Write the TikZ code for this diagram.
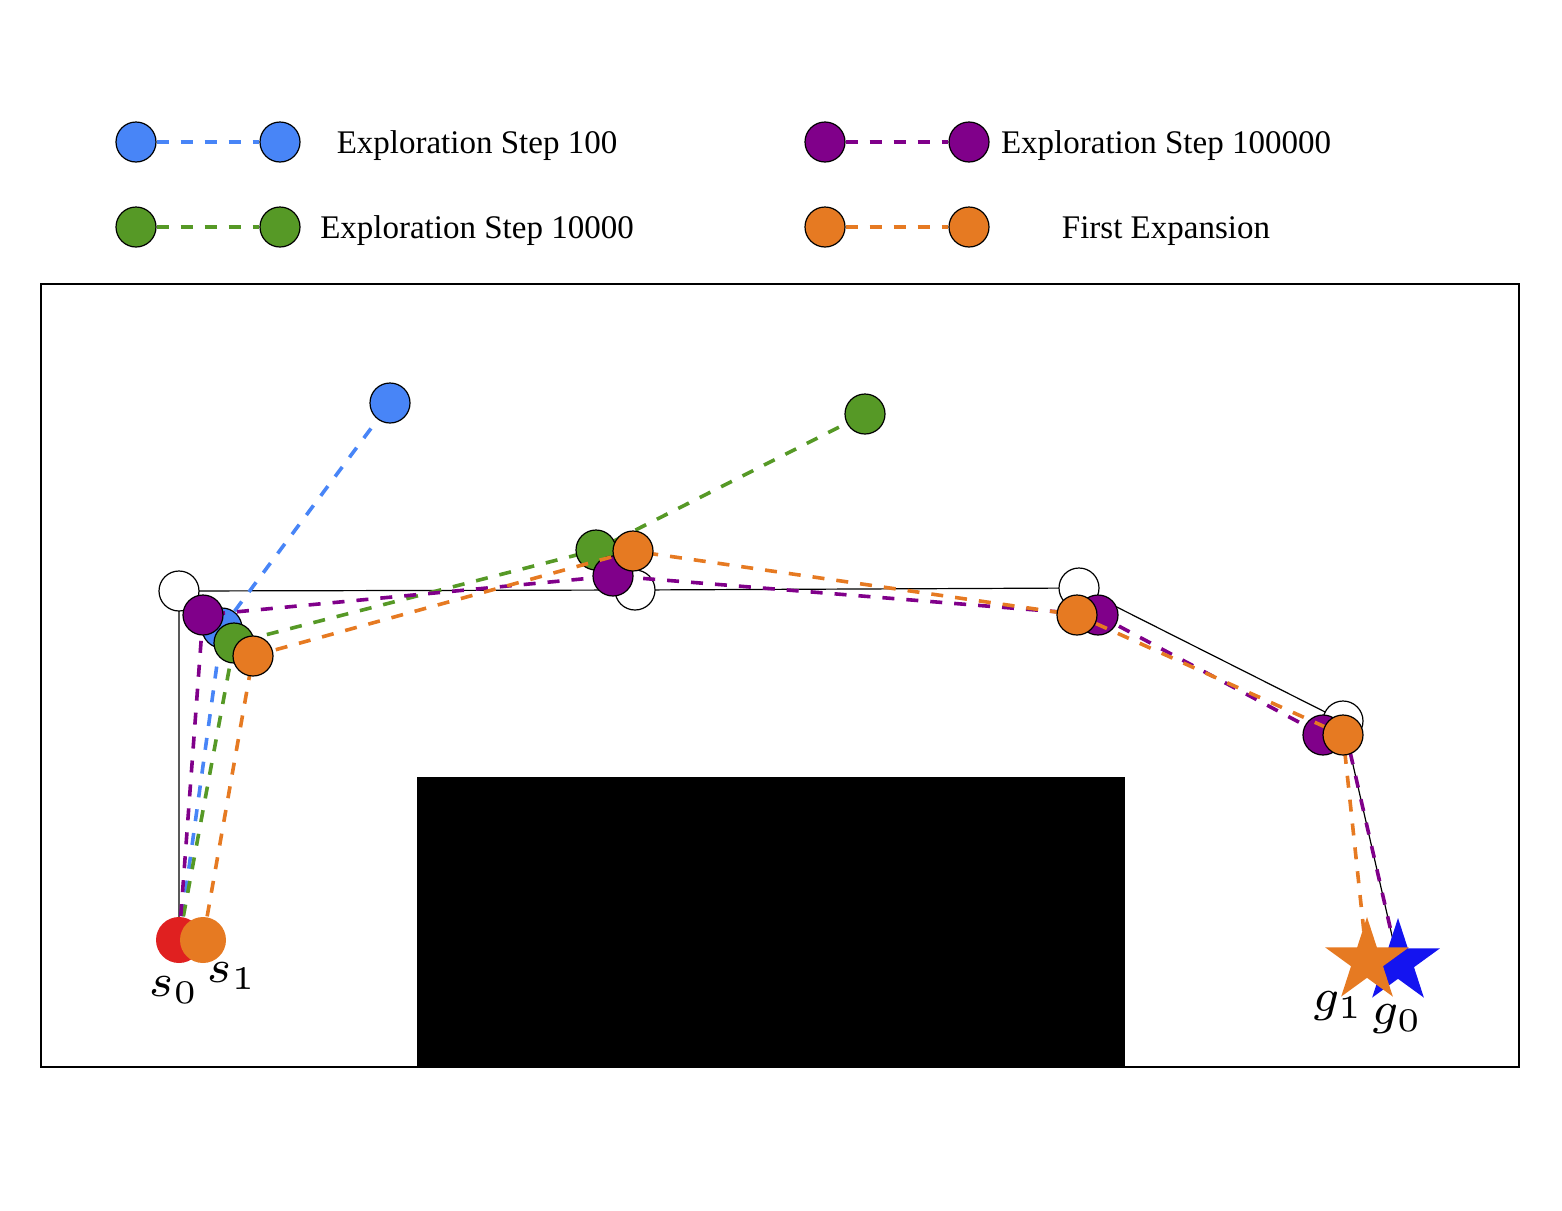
\documentclass[tikz,border=0pt]{standalone}
\usepackage{fontspec}
\setmainfont{Liberation Serif}
\usetikzlibrary{shapes.geometric}
\definecolor{cblue}{RGB}{72,133,247}
\definecolor{cgreen}{RGB}{86,153,38}
\definecolor{cpurple}{RGB}{128,0,138}
\definecolor{corange}{RGB}{230,122,34}
\definecolor{cred}{RGB}{224,32,32}
\definecolor{cstar}{RGB}{20,20,240}
\tikzset{
  dot/.style={circle, draw=black, line width=1.2pt, minimum size=40pt, inner sep=0pt},
  dline/.style={line width=3.6pt, dash pattern=on 12pt off 12pt},
  refline/.style={line width=1.2pt, black},
  lbl/.style={font=\fontsize{33}{40}\selectfont, inner sep=0pt},
  mlbl/.style={font=\fontsize{7}{8}\selectfont, scale=6.6, inner sep=0pt},
  startdot/.style={circle, minimum size=46pt, inner sep=0pt},
  goal/.style={star, star points=5, star point ratio=2.618, minimum size=88pt, inner sep=0pt}
}
\begin{document}
\begin{tikzpicture}[x=1pt,y=-1pt]
\useasboundingbox (0,0) rectangle (1562,1210);
% legend
\node[dot, fill=cblue] (lb1) at (136,142) {};
\node[dot, fill=cblue] (lb2) at (280,142) {};
\draw[dline, cblue] (lb1) -- (lb2);
\node[lbl] (tb) at (477,146) {Exploration Step 100};
\node[dot, fill=cgreen] (lg1) at (136,227) {};
\node[dot, fill=cgreen] (lg2) at (280,227) {};
\draw[dline, cgreen] (lg1) -- (lg2);
\node[lbl] (tg) at (477,231) {Exploration Step 10000};
\node[dot, fill=cpurple] (lp1) at (825,142) {};
\node[dot, fill=cpurple] (lp2) at (969,142) {};
\draw[dline, cpurple] (lp1) -- (lp2);
\node[lbl] (tp) at (1166,146) {Exploration Step 100000};
\node[dot, fill=corange] (lo1) at (825,227) {};
\node[dot, fill=corange] (lo2) at (969,227) {};
\draw[dline, corange] (lo1) -- (lo2);
\node[lbl] (to) at (1166,231) {First Expansion};
% frame and obstacle
\draw[line width=1.2pt] (41,284) rectangle (1519,1067);
\fill[black] (417,777) rectangle (1125,1066);
% coordinates
\coordinate (s0) at (179,940);
\coordinate (s1) at (203,940);
\coordinate (g0) at (1398,962);
\coordinate (g1) at (1367,961);
\coordinate (w1) at (179,591);
\coordinate (w2) at (635,590);
\coordinate (w3) at (1079,588);
\coordinate (w4) at (1343,721);
\coordinate (b1) at (222,628);
\coordinate (bt) at (390,403);
\coordinate (gr1) at (234,643);
\coordinate (gr2) at (596,550);
\coordinate (grt) at (865,414);
\coordinate (p1) at (203,615);
\coordinate (p2) at (613,576);
\coordinate (p3) at (1098,615);
\coordinate (p4) at (1323,735);
\coordinate (o1) at (253,656);
\coordinate (o2) at (633,551);
\coordinate (o3) at (1077,615);
\coordinate (o4) at (1343,735);
% reference path
\draw[refline] (s0) -- (w1) -- (w2) -- (w3) -- (w4) -- (g0);
\foreach \n in {w1,w2,w3,w4} \node[dot, fill=white] (W\n) at (\n) {};
% blue
\draw[dline, cblue] (s0) -- (b1) -- (bt);
\node[dot, fill=cblue] (B1) at (b1) {};
\node[dot, fill=cblue] (BT) at (bt) {};
% green
\draw[dline, cgreen] (s0) -- (gr1) -- (gr2) -- (grt);
\node[dot, fill=cgreen] (GR1) at (gr1) {};
\node[dot, fill=cgreen] (GR2) at (gr2) {};
\node[dot, fill=cgreen] (GRT) at (grt) {};
% purple
\draw[dline, cpurple] (s0) -- (p1) -- (p2) -- (p3) -- (p4) -- (w4) -- (g0);
\node[dot, fill=cpurple] (P1) at (p1) {};
\node[dot, fill=cpurple] (P2) at (p2) {};
\node[dot, fill=cpurple] (P3) at (p3) {};
\node[dot, fill=cpurple] (P4) at (p4) {};
% orange
\draw[dline, corange] (s1) -- (o1) -- (o2) -- (o3) -- (o4) -- (g1);
\node[dot, fill=corange] (O1) at (o1) {};
\node[dot, fill=corange] (O2) at (o2) {};
\node[dot, fill=corange] (O3) at (o3) {};
\node[dot, fill=corange] (O4) at (o4) {};
% goals
\node[goal, fill=cstar] (G0) at (g0) {};
\node[goal, fill=corange] (G1) at (g1) {};
% starts
\node[startdot, fill=cred] (S0) at (s0) {};
\node[startdot, fill=corange] (S1) at (s1) {};
% labels
\node[mlbl] (labs0) at (174,990) {$s_0$};
\node[mlbl] (labs1) at (232,976) {$s_1$};
\node[mlbl] (labg1) at (1338,1006) {$g_1$};
\node[mlbl] (labg0) at (1397,1019) {$g_0$};
\end{tikzpicture}
\end{document}
